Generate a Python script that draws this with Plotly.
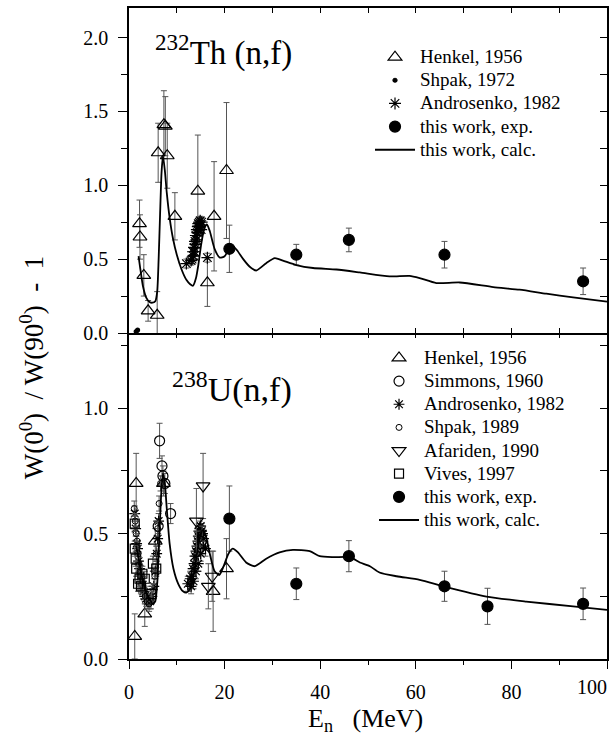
import plotly.graph_objects as go

# ---------------- 232Th(n,f) ----------------
th_henkel_E = [2.2, 2.3, 3.1, 4.0, 5.9, 6.1, 7.3, 7.6, 8.0, 9.6, 14.4, 16.4, 17.8, 20.4]
th_henkel_W = [0.74, 0.65, 0.39, 0.15, 0.12, 1.22, 1.41, 1.40, 1.20, 0.79, 0.96, 0.34, 0.79, 1.10]
th_henkel_err = [0.16, 0.15, 0.14, 0.07, 0.16, 0.20, 0.23, 0.20, 0.22, 0.16, 0.38, 0.16, 0.37, 0.46]

th_shpak_E = [1.5, 1.8]
th_shpak_W = [0.01, 0.02]

th_andro_E = [12.0, 13.0, 13.2, 13.4, 13.5, 13.6, 13.7, 13.8, 13.9, 14.0, 14.1, 14.2, 14.3,
              14.4, 14.5, 14.6, 14.7, 14.8, 14.9, 15.0, 15.1, 15.2, 16.4]
th_andro_W = [0.47, 0.49, 0.50, 0.55, 0.52, 0.58, 0.55, 0.62, 0.60, 0.66, 0.63, 0.70, 0.68,
              0.72, 0.74, 0.70, 0.75, 0.72, 0.76, 0.73, 0.70, 0.75, 0.51]
th_andro_err = [0.03] * len(th_andro_E)

th_exp_E = [21.0, 35.0, 46.0, 66.0, 95.0]
th_exp_W = [0.57, 0.53, 0.63, 0.53, 0.35]
th_exp_err = [0.16, 0.07, 0.08, 0.09, 0.09]

th_calc_E = [2.0, 2.3, 2.9, 3.6, 4.3, 4.9, 5.5, 5.9, 6.2, 6.5, 6.8, 7.1, 7.5, 7.9, 8.5, 9.2,
             10.0, 11.0, 12.0, 12.8, 13.4, 14.0, 14.5, 15.1, 15.7, 16.3, 16.9, 17.9, 19.0,
             20.0, 21.0, 21.8, 22.6, 23.9, 25.2, 26.6, 28.7, 30.5, 32.2, 35.0, 38.5, 43.4,
             48.3, 54.5, 58.7, 60.8, 64.3, 69.2, 76.2, 81.7, 87.3, 92.9, 100.0]
th_calc_W = [0.52, 0.45, 0.32, 0.24, 0.21, 0.205, 0.215, 0.28, 0.50, 0.80, 1.08, 1.20, 1.10,
             0.95, 0.78, 0.64, 0.53, 0.43, 0.36, 0.33, 0.32, 0.37, 0.46, 0.60, 0.70, 0.735,
             0.69, 0.57, 0.51, 0.52, 0.57, 0.585, 0.56, 0.50, 0.45, 0.423, 0.473, 0.507, 0.49,
             0.46, 0.44, 0.43, 0.41, 0.383, 0.387, 0.372, 0.338, 0.342, 0.311, 0.293, 0.266,
             0.241, 0.212]

# ---------------- 238U(n,f) ----------------
u_henkel_E = [1.2, 1.5, 3.3, 5.5, 7.2, 17.6, 20.4]
u_henkel_W = [0.09, 0.70, 0.18, 0.47, 0.70, 0.27, 0.36]
u_henkel_err = [0.09, 0.12, 0.05, 0.05, 0.05, 0.16, 0.12]

u_simmons_E = [6.1, 6.4, 6.9, 7.1, 7.5, 8.7]
u_simmons_W = [0.53, 0.87, 0.77, 0.73, 0.70, 0.58]
u_simmons_err = [0.03, 0.07, 0.04, 0.04, 0.04, 0.04]

u_andro_E = [1.2, 1.4, 1.6, 1.8, 2.0, 2.2, 2.4, 2.6, 2.8, 3.0, 3.3, 3.6, 4.0, 4.4, 4.8, 5.2,
             5.5, 5.8, 6.0, 6.2, 12.3, 12.8, 13.1, 13.4, 13.6, 13.8, 14.0, 14.2, 14.4, 14.5,
             14.6, 14.8, 15.0, 15.2, 15.4, 15.6, 16.0, 13.0, 13.5, 14.0, 14.5, 15.0, 15.5]
u_andro_W = [0.58, 0.52, 0.46, 0.44, 0.39, 0.36, 0.33, 0.31, 0.28, 0.27, 0.25, 0.24, 0.23,
             0.23, 0.25, 0.29, 0.35, 0.42, 0.48, 0.55, 0.30, 0.32, 0.33, 0.36, 0.38, 0.41,
             0.43, 0.45, 0.47, 0.49, 0.51, 0.52, 0.53, 0.51, 0.50, 0.48, 0.44, 0.29, 0.31,
             0.35, 0.38, 0.42, 0.45]
u_andro_err = [0.03] * len(u_andro_E)

u_shpak_E = [1.1, 1.3, 1.5, 1.7, 1.9, 2.1, 2.4, 2.7, 3.0, 3.4, 3.8, 4.2, 4.6, 5.0, 5.4, 5.7,
             6.0, 6.3, 6.6, 14.2, 14.8, 15.3]
u_shpak_W = [0.60, 0.55, 0.50, 0.47, 0.42, 0.38, 0.34, 0.30, 0.27, 0.25, 0.23, 0.22, 0.23,
             0.27, 0.33, 0.42, 0.52, 0.62, 0.70, 0.42, 0.48, 0.50]
u_shpak_err = [0.03] * len(u_shpak_E)

u_afar_E = [14.1, 15.5, 16.6, 17.4]
u_afar_W = [0.55, 0.69, 0.29, 0.33]
u_afar_err = [0.13, 0.13, 0.09, 0.10]

u_vives_E = [1.2, 1.2, 1.4, 1.5, 1.9, 2.2, 2.5, 2.8, 3.3, 4.7, 5.0, 5.7]
u_vives_W = [0.54, 0.44, 0.40, 0.36, 0.30, 0.32, 0.29, 0.34, 0.32, 0.26, 0.38, 0.36]
u_vives_err = [0.03] * len(u_vives_E)

u_exp_E = [21.0, 35.0, 46.0, 66.0, 75.0, 95.0]
u_exp_W = [0.56, 0.30, 0.41, 0.29, 0.21, 0.22]
u_exp_err = [0.13, 0.063, 0.062, 0.06, 0.072, 0.063]

u_calc_E = [1.5, 2.0, 2.7, 3.5, 4.3, 5.0, 5.5, 5.9, 6.2, 6.5, 6.8, 7.1, 7.5, 7.9, 8.5, 9.3,
            10.3, 11.3, 12.0, 12.8, 13.6, 14.3, 14.9, 15.5, 16.1, 16.9, 17.9, 18.9, 19.8,
            20.8, 21.7, 22.8, 24.5, 26.3, 28.7, 31.5, 34.3, 37.8, 39.9, 42.7, 46.2, 48.3,
            50.4, 52.4, 56.0, 60.8, 66.0, 74.8, 83.1, 92.9, 100.0]
u_calc_W = [0.45, 0.40, 0.33, 0.27, 0.24, 0.22, 0.23, 0.30, 0.42, 0.56, 0.68, 0.74, 0.70,
            0.60, 0.46, 0.36, 0.30, 0.27, 0.265, 0.28, 0.34, 0.43, 0.49, 0.515, 0.49, 0.42,
            0.35, 0.335, 0.37, 0.42, 0.44, 0.425, 0.385, 0.37, 0.40, 0.425, 0.435, 0.43,
            0.41, 0.406, 0.406, 0.385, 0.37, 0.345, 0.33, 0.316, 0.289, 0.249, 0.229, 0.21,
            0.196]

x_ticks = [0, 20, 40, 60, 80, 100]

FONT = "Liberation Serif"
INK = "black"
ERR = "#555555"


def lbl(text):
    return '<span style="font-size:19px">' + text + '</span>'


def points(E, W, err, symbol, size, name, xa, ya, leg, lw=1.2):
    return go.Scatter(
        x=E, y=W, mode="markers", name=lbl(name), xaxis=xa, yaxis=ya, legend=leg,
        marker=dict(symbol=symbol, size=size, color=INK, line=dict(color=INK, width=lw)),
        error_y=(dict(type="data", array=err, visible=True, color=ERR, thickness=1, width=3)
                 if err is not None else None),
    )


fig = go.Figure()

# upper panel: Th
fig.add_trace(points(th_henkel_E, th_henkel_W, th_henkel_err, "triangle-up-open", 12,
                     "Henkel, 1956", "x", "y", "legend"))
fig.add_trace(points(th_shpak_E, th_shpak_W, None, "circle", 4, "Shpak, 1972", "x", "y", "legend"))
fig.add_trace(points(th_andro_E, th_andro_W, th_andro_err, "asterisk-open", 10,
                     "Androsenko, 1982", "x", "y", "legend"))
fig.add_trace(points(th_exp_E, th_exp_W, th_exp_err, "circle", 11, "this work, exp.",
                     "x", "y", "legend"))
fig.add_trace(go.Scatter(x=th_calc_E, y=th_calc_W, mode="lines", name=lbl("this work, calc."),
                         xaxis="x", yaxis="y", legend="legend",
                         line=dict(color=INK, width=1.8, shape="spline", smoothing=0.6)))

# lower panel: U
fig.add_trace(points(u_henkel_E, u_henkel_W, u_henkel_err, "triangle-up-open", 12,
                     "Henkel, 1956", "x2", "y2", "legend2"))
fig.add_trace(points(u_simmons_E, u_simmons_W, u_simmons_err, "circle-open", 10,
                     "Simmons, 1960", "x2", "y2", "legend2"))
fig.add_trace(points(u_andro_E, u_andro_W, u_andro_err, "asterisk-open", 9,
                     "Androsenko, 1982", "x2", "y2", "legend2"))
fig.add_trace(points(u_shpak_E, u_shpak_W, u_shpak_err, "circle-open", 6,
                     "Shpak, 1989", "x2", "y2", "legend2", lw=1))
fig.add_trace(points(u_afar_E, u_afar_W, u_afar_err, "triangle-down-open", 12,
                     "Afariden, 1990", "x2", "y2", "legend2"))
fig.add_trace(points(u_vives_E, u_vives_W, u_vives_err, "square-open", 9,
                     "Vives, 1997", "x2", "y2", "legend2"))
fig.add_trace(points(u_exp_E, u_exp_W, u_exp_err, "circle", 11, "this work, exp.",
                     "x2", "y2", "legend2"))
fig.add_trace(go.Scatter(x=u_calc_E, y=u_calc_W, mode="lines", name=lbl("this work, calc."),
                         xaxis="x2", yaxis="y2", legend="legend2",
                         line=dict(color=INK, width=1.8, shape="spline", smoothing=0.6)))

# empty traces so the frame-only axes (right/top ticks, last x label) get their own subplots
for xa, ya in [("x", "y3"), ("x3", "y2"), ("x2", "y4"), ("x4", "y2")]:
    fig.add_trace(go.Scatter(x=[], y=[], xaxis=xa, yaxis=ya, showlegend=False,
                             hoverinfo="skip"))

tickfont = dict(family=FONT, size=20, color=INK)
split = 326 / 651

base_axis = dict(showline=True, linecolor=INK, linewidth=1.5, showgrid=False, zeroline=False,
                 tickcolor=INK, tickwidth=1.2, automargin=False)

fig.update_layout(
    width=612, height=740,
    margin=dict(l=129, r=5, t=8, b=81, autoexpand=False),
    paper_bgcolor="white", plot_bgcolor="white",
    font=dict(family=FONT, color=INK),
    showlegend=True,
    # upper panel axes
    xaxis=dict(**base_axis, domain=[0, 1], anchor="y", range=[0, 100], dtick=10,
               ticks="inside", ticklen=5, mirror="ticks", showticklabels=False),
    yaxis=dict(**base_axis, domain=[split, 1], anchor="x", range=[0, 2.2], dtick=0.5,
               tickformat=".1f", ticks="outside", ticklen=9, tickfont=tickfont,
               ticklabelstandoff=6,
               minor=dict(dtick=0.25, ticks="outside", ticklen=6, tickcolor=INK)),
    yaxis3=dict(**base_axis, overlaying="y", side="right", anchor="x", range=[0, 2.2],
                dtick=0.25, ticks="inside", ticklen=7, showticklabels=False),
    # lower panel axes; the last label is right-aligned on its own axis so it stays in view
    xaxis2=dict(**base_axis, domain=[0, 1], anchor="y2", range=[0, 100], tickvals=x_ticks,
                ticktext=[str(v) for v in x_ticks[:-1]] + [""],
                ticks="outside", ticklen=8, tickfont=tickfont, ticklabelstandoff=6,
                minor=dict(dtick=10, ticks="outside", ticklen=4, tickcolor=INK)),
    xaxis4=dict(overlaying="x2", side="bottom", anchor="y2", range=[0, 100],
                tickvals=x_ticks[-1:], ticktext=[str(x_ticks[-1])], ticks="",
                ticklabelposition="outside left", tickfont=tickfont, ticklabelstandoff=14,
                showline=False, showgrid=False, zeroline=False, automargin=False),
    # top ticks of the lower panel; the shared border line comes from the upper x axis
    xaxis3=dict(overlaying="x2", side="top", anchor="y2", range=[0, 100],
                dtick=10, ticks="inside", ticklen=5, tickcolor=INK, tickwidth=1.2,
                showticklabels=False, showline=False, showgrid=False, zeroline=False,
                automargin=False),
    yaxis2=dict(**base_axis, domain=[0, split], anchor="x2", range=[0, 1.3], dtick=0.5,
                tickformat=".1f", ticks="outside", ticklen=9, tickfont=tickfont,
                ticklabelstandoff=6,
                minor=dict(dtick=0.25, ticks="outside", ticklen=6, tickcolor=INK)),
    yaxis4=dict(**base_axis, overlaying="y2", side="right", anchor="x2", range=[0, 1.3],
                dtick=0.25, ticks="inside", ticklen=7, showticklabels=False),
    legend=dict(x=0.5042, y=0.950, xanchor="left", yanchor="top", bgcolor="rgba(0,0,0,0)",
                borderwidth=0, itemwidth=40, font=dict(family=FONT, size=15.5, color=INK)),
    legend2=dict(x=0.5126, y=0.4879, xanchor="left", yanchor="top", bgcolor="rgba(0,0,0,0)",
                 borderwidth=0, itemwidth=40, font=dict(family=FONT, size=15.5, color=INK)),
    annotations=[
        dict(text="<sup>232</sup>Th (n,f)", xref="paper", yref="paper", x=0.050, y=0.934,
             xanchor="left", yanchor="middle", showarrow=False,
             font=dict(family=FONT, size=33, color=INK)),
        dict(text="<sup>238</sup>U(n,f)", xref="paper", yref="paper", x=0.086, y=0.417,
             xanchor="left", yanchor="middle", showarrow=False,
             font=dict(family=FONT, size=34, color=INK)),
        dict(text="W(0<sup>0</sup>)\u00a0\u00a0/\u00a0W(90<sup>0</sup>)\u00a0\u00a0-\u00a0\u00a01",
             xref="paper", yref="paper",
             x=-0.203, y=0.448, xanchor="center", yanchor="middle", textangle=-90,
             showarrow=False, font=dict(family=FONT, size=27, color=INK)),
        dict(text="E<sub>n</sub>\u00a0\u00a0\u00a0(MeV)", xref="paper", yref="paper",
             x=0.494, y=-0.093, xanchor="center", yanchor="middle", showarrow=False,
             font=dict(family=FONT, size=26, color=INK)),
    ],
)

fig.write_html("out.html")
